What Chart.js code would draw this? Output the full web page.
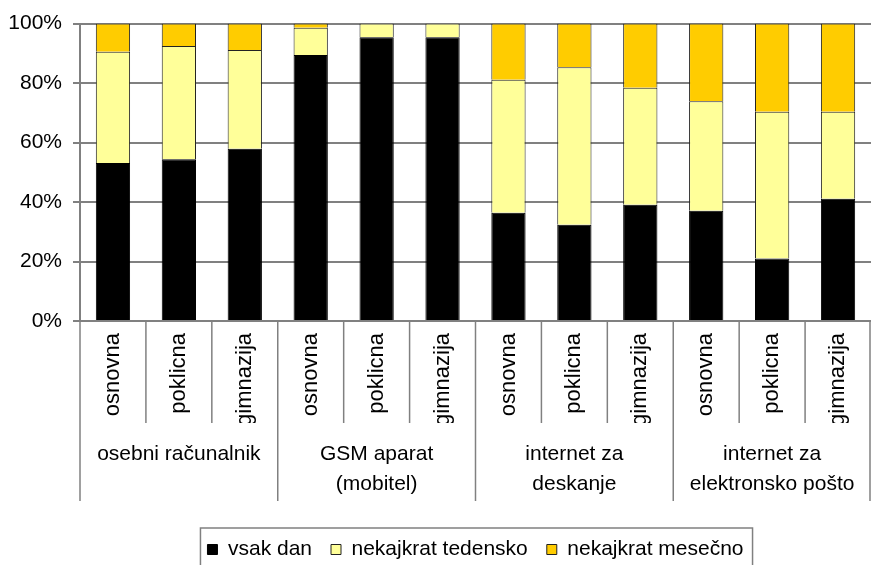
<!DOCTYPE html>
<html>
<head>
<meta charset="utf-8">
<title>Uporaba naprav</title>
<script src="https://cdn.jsdelivr.net/npm/chart.js@4"></script>
<style>
    html, body { margin: 0; padding: 0; background: #fff; }
    #wrap { width: 871px; height: 565px; }
</style>
</head>
<body>
<div id="wrap"><canvas id="usageChart"></canvas></div>
<script>
// school types (lower level of the category axis)
const schoolTypes = [
    'osnovna', 'poklicna', 'gimnazija',
    'osnovna', 'poklicna', 'gimnazija',
    'osnovna', 'poklicna', 'gimnazija',
    'osnovna', 'poklicna', 'gimnazija'
];
// devices / uses (upper level of the category axis)
const deviceGroups = [
    ['osebni računalnik'],
    ['GSM aparat', '(mobitel)'],
    ['internet za', 'deskanje'],
    ['internet za', 'elektronsko pošto']
];
const yTicks = [0, 20, 40, 60, 80, 100];

// shares in %
const everyDay = [53.1, 54.4, 57.9, 89.4, 95.4, 95.4, 36.4, 32.4, 39.1, 37.1, 21.0, 41.1];
const fewTimesWeekly = [37.4, 38.1, 33.2, 9.2, 4.6, 4.6, 44.7, 52.9, 39.3, 36.8, 49.4, 29.3];
const fewTimesMonthly = [9.5, 7.5, 8.9, 1.4, 0, 0, 18.9, 14.7, 21.6, 26.1, 29.6, 29.6];

const seriesNames = ['vsak dan', 'nekajkrat tedensko', 'nekajkrat mesečno'];

Chart.defaults.font.family = "'Liberation Sans', Arial, sans-serif";
Chart.defaults.font.size = 21;
Chart.defaults.color = '#000';

const axisGray = '#808080';

// vertical separators under the x axis (short ones between schools, long ones between groups)
const separatorLines = {
    id: 'separatorLines',
    afterDraw(chart) {
        const { ctx, scales } = chart;
        const x = scales.x;
        const x2 = scales.x2;
        ctx.save();
        ctx.strokeStyle = axisGray;
        ctx.lineWidth = 1.5;
        for (let i = 0; i <= schoolTypes.length; i++) {
            let px = x.getPixelForValue(i - 0.5);
            if (i === schoolTypes.length) px -= 1;
            const bottom = (i % 3 === 0) ? x2.top + 78 : x.bottom;
            ctx.beginPath();
            ctx.moveTo(px, x.top);
            ctx.lineTo(px, bottom);
            ctx.stroke();
        }
        ctx.restore();
    }
};

// frame round the legend
const legendFrame = {
    id: 'legendFrame',
    afterDraw(chart) {
        const boxes = chart.legend.legendHitBoxes;
        if (!boxes || !boxes.length) return;
        const first = boxes[0];
        const last = boxes[boxes.length - 1];
        const ctx = chart.ctx;
        ctx.save();
        ctx.strokeStyle = axisGray;
        ctx.lineWidth = 1.5;
        ctx.strokeRect(first.left - 7, first.top - 11, last.left + last.width - first.left + 16, 80);
        ctx.restore();
    }
};

const ctx = document.getElementById('usageChart').getContext('2d');
const usageChart = new Chart(ctx, {
    type: 'bar',
    data: {
        labels: schoolTypes,
        datasets: [{
            label: seriesNames[0],
            data: everyDay,
            backgroundColor: '#000000',
            borderColor: '#000000',
            borderWidth: 1
        }, {
            label: seriesNames[1],
            data: fewTimesWeekly,
            backgroundColor: '#FFFF99',
            borderColor: '#222222',
            borderWidth: 1
        }, {
            label: seriesNames[2],
            data: fewTimesMonthly,
            backgroundColor: '#FFCC00',
            borderColor: '#222222',
            borderWidth: 1
        }]
    },
    options: {
        responsive: true,
        maintainAspectRatio: false,
        animation: false,
        layout: {
            padding: { top: 20, left: 0, right: 0, bottom: -5 }
        },
        datasets: {
            bar: { barPercentage: 0.52, categoryPercentage: 1 }
        },
        plugins: {
            tooltip: { enabled: false },
            legend: {
                position: 'bottom',
                fullSize: false,
                labels: {
                    boxWidth: 10,
                    boxHeight: 10,
                    padding: 19,
                    font: { size: 21 },
                    color: '#000'
                }
            }
        },
        scales: {
            x: {
                stacked: true,
                offset: true,
                grid: { display: false, drawTicks: false },
                border: { display: true, color: axisGray, width: 2 },
                ticks: {
                    autoSkip: false,
                    maxRotation: 90,
                    minRotation: 90,
                    padding: 12,
                    font: { size: 22 }
                },
                afterFit(scale) {
                    scale.height = 102;
                    scale.paddingLeft = 0;
                    scale.paddingRight = 0;
                }
            },
            x2: {
                type: 'category',
                position: 'bottom',
                labels: deviceGroups,
                offset: true,
                weight: 1,
                grid: { display: false, drawTicks: false },
                border: { display: false },
                ticks: {
                    autoSkip: false,
                    maxRotation: 0,
                    padding: 16,
                    font: { size: 21, lineHeight: 1.45 }
                },
                afterFit(scale) {
                    scale.height = 97;
                    scale.paddingLeft = 0;
                    scale.paddingRight = 0;
                }
            },
            y: {
                stacked: true,
                min: 0,
                max: 100,
                afterBuildTicks(scale) {
                    scale.ticks = yTicks.map(v => ({ value: v }));
                },
                grid: { color: axisGray, lineWidth: 2, tickLength: 7 },
                border: { color: axisGray, width: 2 },
                ticks: {
                    padding: 11,
                    callback: v => v + '%'
                },
                afterFit(scale) { scale.width = 80; }
            }
        }
    },
    plugins: [separatorLines, legendFrame]
});
</script>
</body>
</html>
